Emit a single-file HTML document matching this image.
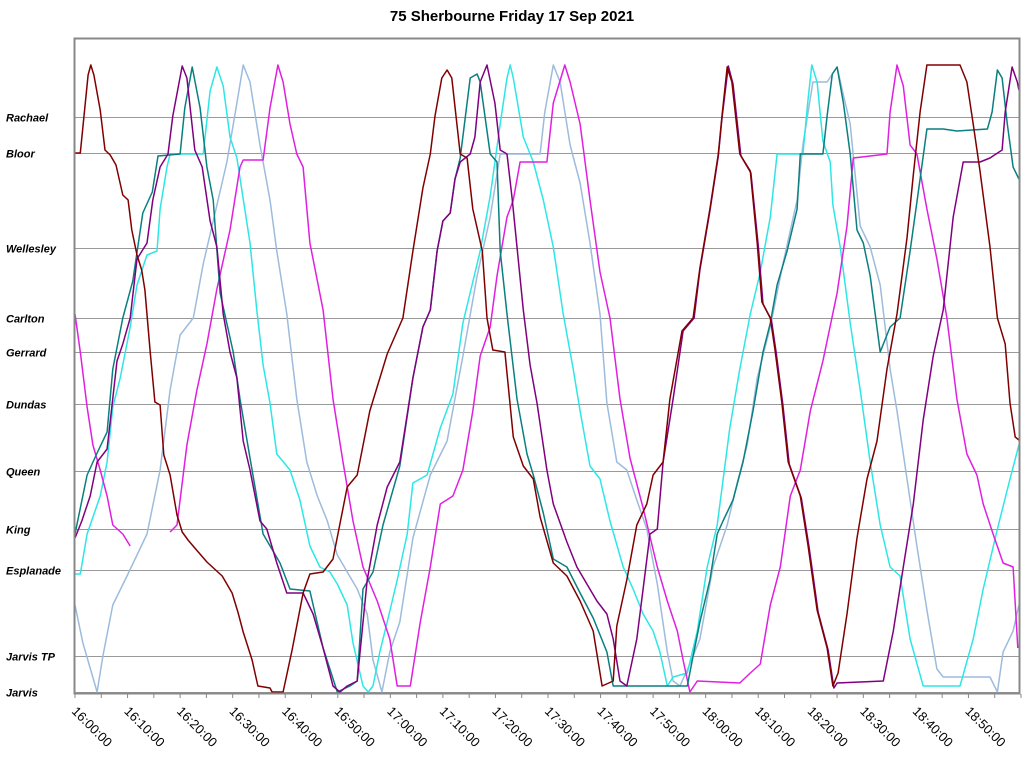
<!DOCTYPE html>
<html><head><meta charset="utf-8"><style>
body{margin:0;background:#fff;width:1024px;height:758px;overflow:hidden;font-family:"Liberation Sans",sans-serif}
</style></head><body>
<svg id="chart" width="1024" height="758" xmlns="http://www.w3.org/2000/svg">
<text x="512" y="21" text-anchor="middle" font-family="Liberation Sans" font-weight="bold" font-size="15">75 Sherbourne Friday 17 Sep 2021</text>
<g id="grid"></g>
<g id="ylabels"></g>
<g id="xlabels"></g>
<g id="series"></g>
<rect x="74.5" y="38.5" width="945" height="655" fill="none" stroke="#888" stroke-width="2"/>
</svg>
<script>
const stationNames=["Rachael","Bloor","Wellesley","Carlton","Gerrard","Dundas","Queen","King","Esplanade","Jarvis TP","Jarvis"];
const stationPos=[575,539,444,374,340,288,221,163,122,36,0];
const tickMinutes=[0,10,20,30,40,50,60,70,80,90,100,110,120,130,140,150,160,170];
const tickLabels=["16:00:00","16:10:00","16:20:00","16:30:00","16:40:00","16:50:00","17:00:00","17:10:00","17:20:00","17:30:00","17:40:00","17:50:00","18:00:00","18:10:00","18:20:00","18:30:00","18:40:00","18:50:00"];
const darkRed=[[0,539],[1,539],[2.5,617],[3,627],[3.6,617],[4.8,582],[5.7,542],[6.7,537],[7.8,527],[9.1,497],[10.1,492],[10.8,462],[11.8,437],[12.7,422],[13.3,402],[14.3,340],[15.2,290],[16.2,287],[16.9,237],[18.1,217],[19.4,177],[20.4,160],[21.5,152],[22.8,144],[25.1,130],[28,116],[29.9,99],[31,80],[32,60],[33.7,32],[34.8,6],[37.1,4],[37.5,0],[39.6,0],[41.3,42],[43.4,99],[44.7,118],[47.2,120],[49.1,133],[51.8,205],[53.7,217],[56.1,281],[59.4,338],[62.4,374],[64.3,441],[66.2,504],[67.6,538],[68.5,576],[69.8,614],[70.8,622],[71.7,614],[73.3,538],[74.6,534],[75.7,483],[77.5,441],[78.4,374],[79.5,342],[81.8,340],[83.4,255],[85.3,226],[87.2,213],[88.5,175],[91,129],[93.6,116],[96.1,91],[98.6,61],[100.3,6],[102.4,11],[103.1,66],[105,112],[106.9,167],[108.8,188],[110,217],[111.9,230],[113.2,293],[115.5,361],[117.6,374],[118.9,424],[120.8,483],[122.4,538],[123.1,576],[124.1,625],[125,610],[126.5,538],[128.5,521],[129.8,449],[130.7,390],[132.3,374],[133.2,342],[134.5,289],[135.7,230],[138,196],[139.5,146],[141.2,82],[143.1,44],[144.2,6],[145.2,19],[146.9,78],[148.8,154],[150.7,213],[152.6,251],[154.5,323],[156.4,378],[158.3,454],[159.5,517],[160.8,580],[162.1,627],[168.4,627],[169.7,610],[170.9,568],[172.2,521],[174.1,445],[175.5,374],[177,348],[177.9,289],[178.9,255],[179.6,252]];
const purple=[[0,154],[1.3,171],[2.9,196],[4.2,230],[6.1,243],[8,331],[9.1,348],[10.5,374],[11.8,433],[13.7,449],[14.8,492],[16.2,525],[17.7,538],[18.6,576],[20.4,626],[21.3,614],[22.8,542],[24.2,525],[25.7,471],[27,445],[28.2,378],[29.5,340],[30.8,314],[32,251],[33.3,222],[35.2,171],[36.5,163],[38.4,129],[40.3,99],[43.4,99],[45.3,78],[47.2,44],[49.1,6],[50.4,0],[51.8,6],[53.7,11],[55.6,112],[57.5,167],[59.4,205],[61.8,230],[64.3,314],[66.2,365],[67.6,382],[68.9,441],[70,471],[71.4,479],[72.3,513],[73.3,530],[75.2,538],[76.1,555],[77.1,610],[78.4,627],[79.9,589],[80.9,542],[82.2,538],[83.2,492],[84.1,445],[85.3,382],[86.6,327],[87.9,289],[89.8,222],[91,188],[93.6,150],[95.5,125],[97.4,108],[99.3,91],[101.2,78],[102.4,53],[103.7,11],[105,6],[106.9,53],[108.1,103],[109.4,158],[110.8,163],[111.9,230],[113.8,293],[115.7,361],[117.8,374],[118.9,422],[120.8,481],[122.4,536],[123.1,574],[124.3,626],[125.2,608],[126.7,536],[128.6,519],[130,447],[130.9,388],[132.5,372],[133.4,340],[134.7,287],[135.9,228],[138.2,194],[139.7,144],[141.4,80],[143.3,42],[144.4,4],[145,9],[153.8,11],[155.7,61],[157.6,125],[159.5,188],[161.4,272],[163.3,336],[165.2,382],[167.1,475],[169,530],[172.2,530],[174.1,534],[176.4,542],[177,580],[178.3,625],[179.3,610],[179.6,602]];
const teal=[[0,158],[2.3,217],[4.2,239],[6.1,260],[7.2,323],[9.1,374],[11,411],[12.9,479],[14.7,500],[15.8,536],[20,538],[20.9,584],[22.3,625],[23.8,584],[25.1,525],[26.3,492],[27.6,399],[30.1,340],[31.4,293],[33.3,234],[35.8,158],[39,129],[40.9,103],[44.7,101],[47.2,44],[49.9,0],[52.3,6],[53.7,11],[54.8,103],[56.7,120],[58.6,167],[61.8,226],[64.3,314],[66.2,365],[67.6,382],[68.9,441],[70,471],[71.4,479],[72.3,513],[73.3,534],[75.2,614],[76.5,618],[77.1,610],[79,538],[80.3,530],[80.9,441],[82.2,378],[84.1,293],[86,238],[87.2,217],[89.1,179],[91,133],[93.6,125],[96.1,99],[98.6,74],[101.2,40],[102.4,6],[116.5,6],[117.6,36],[118.9,70],[120.8,112],[122.2,158],[123.3,171],[125.2,192],[127.1,230],[129,281],[130.9,340],[132.3,369],[133.6,407],[135.5,441],[137.4,483],[138,538],[142.3,538],[143.1,576],[144.1,618],[145,625],[146.2,589],[147.5,538],[148.8,462],[150,449],[151.3,416],[153.2,340],[155.1,365],[157,374],[158.9,441],[160.8,513],[162.1,563],[165.2,563],[167.8,561],[173.6,563],[174.5,580],[175.5,622],[176.4,614],[177.4,568],[178.5,525],[179.6,513]];
const cyan=[[0,118],[1,118],[2.3,158],[4.8,196],[6.1,230],[7.2,285],[8.6,314],[10.5,365],[11.8,407],[13.7,437],[15.6,441],[16.2,483],[17.5,525],[18.1,538],[24.4,538],[25.7,601],[27,625],[28.2,606],[29.5,555],[30.8,534],[33.3,449],[34.6,382],[35.8,327],[37.1,289],[38.4,238],[40.9,222],[42.8,192],[44.7,146],[46.6,125],[48.5,120],[49.9,108],[51.8,87],[52.9,49],[54.8,6],[55.8,0],[56.7,6],[58,40],[59.4,70],[61.3,112],[63.2,158],[64.3,209],[67,217],[69.5,264],[71.9,298],[73.8,369],[77.1,441],[79,496],[80.9,568],[82.2,614],[82.8,627],[83.4,614],[85.3,555],[87.2,530],[89.1,492],[91,445],[92.9,378],[94.8,323],[96.1,281],[98,226],[99.9,213],[101.8,171],[104.3,125],[106.2,103],[108.1,78],[110,61],[111.3,40],[112.7,6],[113.8,15],[116.5,19],[118.4,61],[120.3,125],[122.2,167],[124.6,264],[126.5,323],[128.5,378],[130.4,420],[132.3,475],[133.6,538],[138.5,538],[139.5,593],[140.2,627],[141.2,610],[142.3,551],[143.7,530],[144.2,487],[145.6,445],[147.5,369],[149.4,302],[151.3,230],[153.2,167],[155.1,125],[157,116],[158.9,53],[161.4,6],[168.4,6],[170.9,53],[172.8,103],[175.5,163],[177.9,213],[179.6,247]];
const lightBlue=[[0,87],[1.5,49],[4.2,0],[5.3,36],[7.2,87],[9.9,116],[13.7,158],[16.2,222],[18.1,302],[20,357],[22.5,374],[24.4,428],[26.3,471],[28.9,530],[30.8,589],[32,627],[33.3,610],[35.2,547],[37.1,492],[38.4,441],[40.3,378],[42.2,293],[44.1,230],[46.1,196],[48,171],[49.9,137],[53.7,103],[55.6,78],[56.7,32],[58.4,0],[59.9,40],[61.8,70],[64.3,154],[67.6,217],[70.8,251],[73.8,336],[76.5,416],[79,475],[80.9,538],[88.5,538],[89.4,580],[91,627],[92.3,610],[94.2,547],[96.1,509],[98,449],[99.9,378],[101.2,289],[103.1,230],[105,222],[106.9,192],[108.8,163],[110.8,108],[112.7,40],[113.8,11],[115.1,6],[117,28],[118.9,53],[121.4,125],[124.1,167],[126,209],[127.9,247],[129.8,314],[132.3,365],[134.7,428],[137.4,492],[138.5,547],[140.4,610],[143.1,610],[145,625],[146.2,597],[147.5,568],[149.4,466],[151.3,445],[153.2,407],[155.1,323],[156.4,281],[158.3,213],[160.2,146],[162.1,82],[164,23],[165.2,15],[174.1,15],[175.5,0],[176.6,40],[178.5,61],[179.6,87]];
const magentaA=[[0,378],[1,340],[2.3,285],[3.4,247],[4.8,222],[6.1,196],[7.2,167],[9.1,158],[10.5,146]];
const magentaB=[[18.1,160],[19.4,167],[21.3,247],[23.2,302],[25.1,348],[27,403],[29.5,462],[31.4,525],[32,532],[35.8,532],[37.1,584],[38.6,627],[39.6,610],[40.9,568],[42.2,538],[43.4,525],[44.7,449],[47.2,382],[49.1,293],[51,230],[52.9,171],[54.8,125],[57.5,91],[59.9,53],[61.3,6],[63.8,6],[65.7,70],[67.6,125],[69.5,188],[71.9,196],[73.8,222],[75.7,281],[77.1,336],[79,365],[80.3,416],[82.2,475],[83.4,492],[84.7,530],[89.8,530],[91,589],[93.2,627],[94.2,610],[96.1,568],[98,492],[99.9,420],[101.8,374],[103.7,293],[105.6,234],[108.1,184],[110.8,125],[112.7,91],[114.6,61],[115.7,32],[117,0],[118.4,11],[126.5,9],[128.5,19],[130.4,28],[132.3,87],[134.2,125],[136.1,196],[138,222],[139.9,281],[142.3,331],[145,399],[146.9,466],[148.1,534],[154.5,538],[155.1,580],[156.4,627],[157.6,606],[158.9,547],[160.2,538],[162.1,483],[164,433],[165.9,374],[167.8,293],[169.7,238],[171.6,217],[172.8,188],[174.7,158],[176.6,129],[178.5,125],[179.4,44]];

const X0=75,X1=1021,Y0=692,Y1=38;
const xScale=t=>X0+t*(X1-X0)/180;
const yScale=v=>Y0-v*(Y0-Y1)/654;
const NS="http://www.w3.org/2000/svg";
const grid=document.getElementById('grid'),yl=document.getElementById('ylabels'),xl=document.getElementById('xlabels'),sg=document.getElementById('series');
stationNames.forEach((n,i)=>{
  const y=Math.round(yScale(stationPos[i]))+0.5;
  const l=document.createElementNS(NS,'line');
  
  
  l.setAttribute('x1',75);l.setAttribute('x2',1019);l.setAttribute('y1',y);l.setAttribute('y2',y);
  l.setAttribute('stroke','#999');l.setAttribute('stroke-width','1');
  grid.appendChild(l);
  const t=document.createElementNS(NS,'text');
  
  
  t.setAttribute('x',6);t.setAttribute('y',y+4);
  t.setAttribute('font-size','11');t.setAttribute('font-weight','bold');t.setAttribute('font-style','italic');
  t.textContent=n;yl.appendChild(t);
});
for(let m=0;m<=180;m+=5){
  const x=xScale(m);
  const tk=document.createElementNS(NS,'line');
  
  
  tk.setAttribute('x1',x);tk.setAttribute('x2',x);tk.setAttribute('y1',694);tk.setAttribute('y2',698);tk.setAttribute('stroke','#888');
  xl.appendChild(tk);
}
tickMinutes.forEach((m,i)=>{
  const x=xScale(m);
  const t=document.createElementNS(NS,'text');
  
  
  t.setAttribute('x',x-4);t.setAttribute('y',712);
  t.setAttribute('font-size','13');
  t.setAttribute('transform','rotate(45 '+(x-4)+' 712)');
  t.textContent=tickLabels[i];xl.appendChild(t);
});
function drawLine(data,color,name){
  const p=document.createElementNS(NS,'polyline');
  
  
  p.setAttribute('points',data.map(d=>xScale(d[0]).toFixed(1)+','+yScale(d[1]).toFixed(1)).join(' '));
  p.setAttribute('fill','none');p.setAttribute('stroke',color);p.setAttribute('stroke-width','1.5');p.setAttribute('stroke-linejoin','round');
  sg.appendChild(p);
}
drawLine(lightBlue,'#9dbcdc','series-light-blue');
drawLine(cyan,'#2ee6e6','series-cyan');
drawLine(magentaA,'#e020e0','series-magenta-a');
drawLine(magentaB,'#e020e0','series-magenta-b');
drawLine(teal,'#0a7f7f','series-teal');
drawLine(purple,'#800080','series-purple');
drawLine(darkRed,'#800000','series-dark-red');
</script>
</body></html>
